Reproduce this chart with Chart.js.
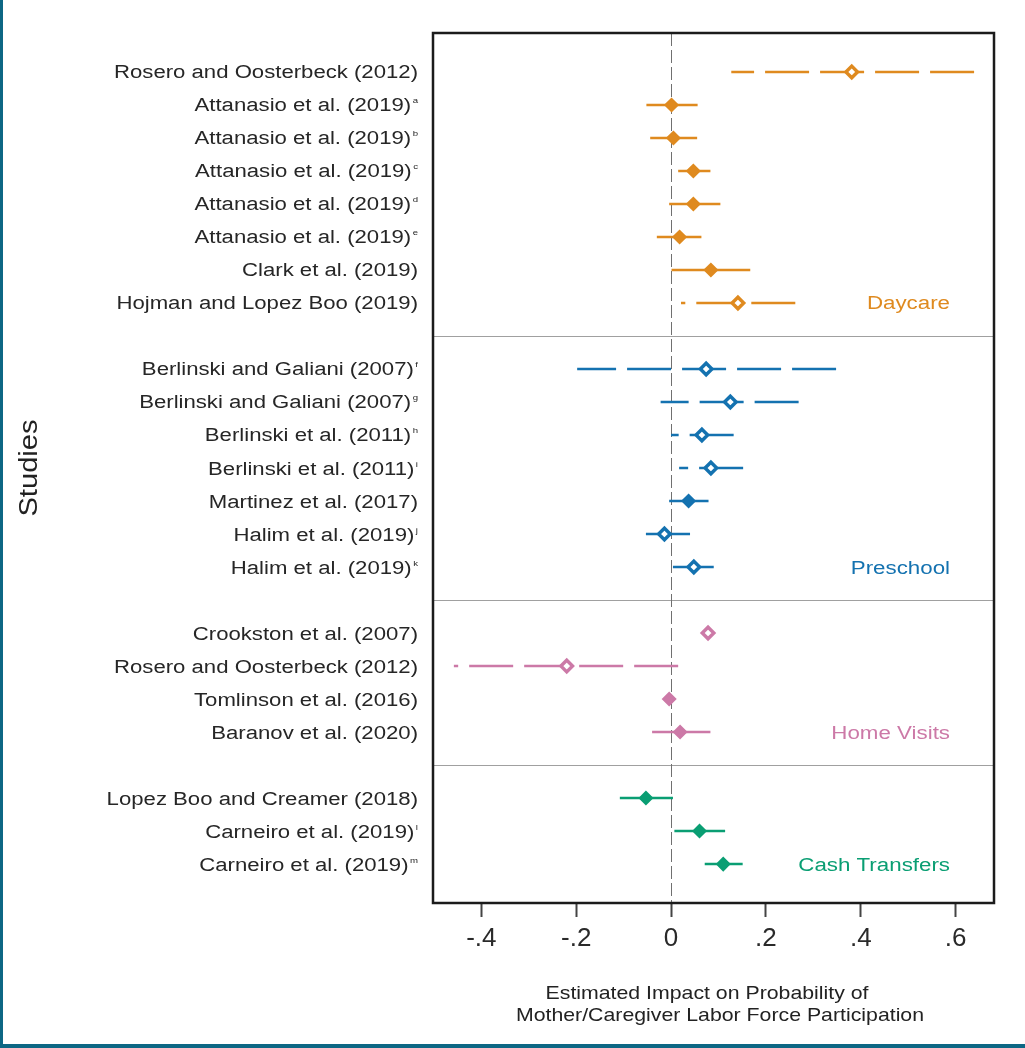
<!DOCTYPE html>
<html>
<head>
<meta charset="utf-8">
<script src="https://cdn.jsdelivr.net/npm/chart.js@4/dist/chart.umd.min.js"></script>
<style>
  html, body { margin: 0; padding: 0; background: #fff; overflow: hidden; }
  #wrap { position: relative; width: 1025px; height: 1048px; }
  #wrap canvas { position: absolute; left: 0; top: 0; }
  .frame-left { position: absolute; left: 0; top: 0; width: 3px; height: 1048px; background: #0d6784; }
  .frame-bottom { position: absolute; left: 0; bottom: 0; width: 1025px; height: 4px; background: #0d6784; }
</style>
</head>
<body>
<div id="wrap">
  <canvas id="forest" width="1025" height="1048"></canvas>
  <div class="frame-left"></div>
  <div class="frame-bottom"></div>
</div>
<script>
// ---- Data -------------------------------------------------------------
const studies = [
  'Rosero and Oosterbeck (2012)',
  'Attanasio et al. (2019)',
  'Attanasio et al. (2019)',
  'Attanasio et al. (2019)',
  'Attanasio et al. (2019)',
  'Attanasio et al. (2019)',
  'Clark et al. (2019)',
  'Hojman and Lopez Boo (2019)',
  'Berlinski and Galiani (2007)',
  'Berlinski and Galiani (2007)',
  'Berlinski et al. (2011)',
  'Berlinski et al. (2011)',
  'Martinez et al. (2017)',
  'Halim et al. (2019)',
  'Halim et al. (2019)',
  'Crookston et al. (2007)',
  'Rosero and Oosterbeck (2012)',
  'Tomlinson et al. (2016)',
  'Baranov et al. (2020)',
  'Lopez Boo and Creamer (2018)',
  'Carneiro et al. (2019)',
  'Carneiro et al. (2019)'
];
const notes = ['', 'a', 'b', 'c', 'd', 'e', '', '',
               'f', 'g', 'h', 'i', '', 'j', 'k',
               '', '', '', '',
               '', 'l', 'm'];
const groups = ['Daycare', 'Preschool', 'Home Visits', 'Cash Transfers'];
const groupOf = [0, 0, 0, 0, 0, 0, 0, 0,
                 1, 1, 1, 1, 1, 1, 1,
                 2, 2, 2, 2,
                 3, 3, 3];
const estimates = [0.381, 0.001, 0.005, 0.047, 0.047, 0.018, 0.084, 0.141,
                   0.074, 0.125, 0.065, 0.084, 0.037, -0.014, 0.048,
                   0.078, -0.220, -0.004, 0.019,
                   -0.053, 0.060, 0.110];
const ciLower = [0.127, -0.052, -0.044, 0.015, -0.004, -0.030, 0.001, 0.021,
                 -0.198, -0.022, 0.000, 0.017, -0.004, -0.053, 0.004,
                 null, -0.458, -0.010, -0.040,
                 -0.108, 0.007, 0.071];
const ciUpper = [0.639, 0.056, 0.055, 0.083, 0.104, 0.064, 0.167, 0.262,
                 0.348, 0.269, 0.132, 0.152, 0.079, 0.040, 0.090,
                 null, 0.015, 0.002, 0.083,
                 0.004, 0.114, 0.151];
const xTicks = [-0.4, -0.2, 0, 0.2, 0.4, 0.6];
const xTitle = ['Estimated Impact on Probability of', 'Mother/Caregiver Labor Force Participation'];
const yTitle = 'Studies';

// ---- Styling ----------------------------------------------------------
const groupColors = ['#df8a1f', '#1472b0', '#cc79a7', '#0a9e73'];
const hollowMarker = [1, 0, 0, 0, 0, 0, 0, 1,
                      1, 1, 1, 1, 0, 1, 1,
                      1, 1, 0, 0,
                      0, 0, 0];
const dashedInterval = [1, 0, 0, 0, 0, 0, 0, 1,
                        1, 1, 1, 1, 0, 0, 0,
                        0, 1, 0, 0,
                        0, 0, 0];
const FONT = '"Liberation Sans", Arial, Helvetica, sans-serif';

// each group is followed by one empty row
const rowPos = studies.map((_, i) => i + groupOf[i]);
const separators = groups.slice(1).map((_, g) => rowPos[groupOf.indexOf(g + 1)] - 1);

const intervalSets = [];
studies.forEach((_, i) => {
  if (ciLower[i] === null) return;
  intervalSets.push({
    data: [{ x: ciUpper[i], y: rowPos[i] }, { x: ciLower[i], y: rowPos[i] }],
    showLine: true,
    borderColor: groupColors[groupOf[i]],
    borderWidth: 2.6,
    borderDash: dashedInterval[i] ? [44, 11] : [],
    borderCapStyle: 'butt',
    pointRadius: 0,
    order: 1
  });
});

const markerSets = groups.map((g, gi) => {
  const idx = studies.map((_, i) => i).filter(i => groupOf[i] === gi);
  const c = groupColors[gi];
  return {
    label: g,
    data: idx.map(i => ({ x: estimates[i], y: rowPos[i] })),
    pointStyle: 'rectRot',
    pointRadius: idx.map(i => hollowMarker[i] ? 5.8 : 6.3),
    pointBorderWidth: idx.map(i => hollowMarker[i] ? 3.4 : 1.8),
    pointBackgroundColor: idx.map(i => hollowMarker[i] ? '#ffffff' : c),
    pointBorderColor: c,
    order: 0
  };
});

function stretchedText(ctx, text, x, y, sx, align) {
  ctx.save();
  ctx.translate(x, y);
  ctx.scale(sx, 1);
  ctx.textAlign = align;
  ctx.textBaseline = 'alphabetic';
  ctx.fillText(text, 0, 0);
  ctx.restore();
}

const forestDecor = {
  id: 'forestDecor',
  beforeDatasetsDraw(chart) {
    const { ctx, chartArea: a, scales: { x, y } } = chart;
    ctx.save();
    // group separators
    ctx.strokeStyle = '#a0a0a0';
    ctx.lineWidth = 1.2;
    separators.forEach(p => {
      const py = Math.round(y.getPixelForValue(p)) + 0.5;
      ctx.beginPath(); ctx.moveTo(a.left, py); ctx.lineTo(a.right, py); ctx.stroke();
    });
    // reference line at zero
    const px = Math.round(x.getPixelForValue(0)) + 0.5;
    ctx.strokeStyle = '#707070';
    ctx.lineWidth = 1;
    ctx.setLineDash([13, 4]);
    ctx.beginPath(); ctx.moveTo(px, a.top); ctx.lineTo(px, a.bottom); ctx.stroke();
    ctx.restore();
  },
  afterDraw(chart) {
    const { ctx, chartArea: a, scales: { y } } = chart;
    ctx.save();
    // plot frame
    ctx.strokeStyle = '#1b1b1b';
    ctx.lineWidth = 2.5;
    ctx.strokeRect(a.left, a.top, a.right - a.left, a.bottom - a.top);

    // study labels with footnote letters
    const right = a.left - 15;
    ctx.fillStyle = '#262626';
    studies.forEach((s, i) => {
      const base = y.getPixelForValue(rowPos[i]) + 6.5;
      let supW = 0;
      if (notes[i]) {
        ctx.font = '8px ' + FONT;
        supW = ctx.measureText(notes[i]).width * 1.2 + 1.5;
        stretchedText(ctx, notes[i], right - supW + 1.5, base - 8, 1.2, 'left');
      }
      ctx.font = '18px ' + FONT;
      stretchedText(ctx, s, right - supW, base, 1.23, 'right');
    });

    // group names
    ctx.font = '18px ' + FONT;
    groups.forEach((g, gi) => {
      const last = rowPos[groupOf.lastIndexOf(gi)];
      ctx.fillStyle = groupColors[gi];
      stretchedText(ctx, g, a.right - 44, y.getPixelForValue(last) + 6.5, 1.24, 'right');
    });

    // axis titles
    ctx.fillStyle = '#222';
    ctx.font = '19px ' + FONT;
    const cx = (a.left + a.right) / 2;
    stretchedText(ctx, xTitle[0], cx - 6.5, a.bottom + 96, 1.12, 'center');
    stretchedText(ctx, xTitle[1], cx + 6.5, a.bottom + 118, 1.12, 'center');

    ctx.font = '26px ' + FONT;
    ctx.translate(37, (a.top + a.bottom) / 2);
    ctx.rotate(-Math.PI / 2);
    stretchedText(ctx, yTitle, 0, 0, 1.12, 'center');
    ctx.restore();
  }
};

function tickText(v) {
  if (Math.abs(v) < 1e-9) return '0';
  return (v < 0 ? '-' : '') + Math.abs(v).toFixed(1).replace(/^0/, '');
}

new Chart(document.getElementById('forest'), {
  type: 'scatter',
  data: { datasets: [...markerSets, ...intervalSets] },
  options: {
    responsive: false,
    animation: false,
    events: [],
    layout: { padding: { left: 433, top: 33, right: 31, bottom: 0 } },
    plugins: { legend: { display: false }, tooltip: { enabled: false } },
    scales: {
      x: {
        type: 'linear',
        min: -0.502,
        max: 0.681,
        afterBuildTicks: s => { s.ticks = xTicks.map(v => ({ value: v })); },
        afterFit: s => { s.height = 145; },
        ticks: {
          callback: v => tickText(v),
          font: { family: FONT, size: 26 },
          color: '#2a2a2a',
          padding: 6,
          maxRotation: 0,
          autoSkip: false
        },
        grid: { drawOnChartArea: false, drawTicks: true, tickLength: 14, tickWidth: 2, tickColor: '#444' },
        border: { display: false }
      },
      y: {
        type: 'linear',
        display: false,
        reverse: true,
        min: -1.18,
        max: 25.18
      }
    }
  },
  plugins: [forestDecor]
});
</script>
</body>
</html>
